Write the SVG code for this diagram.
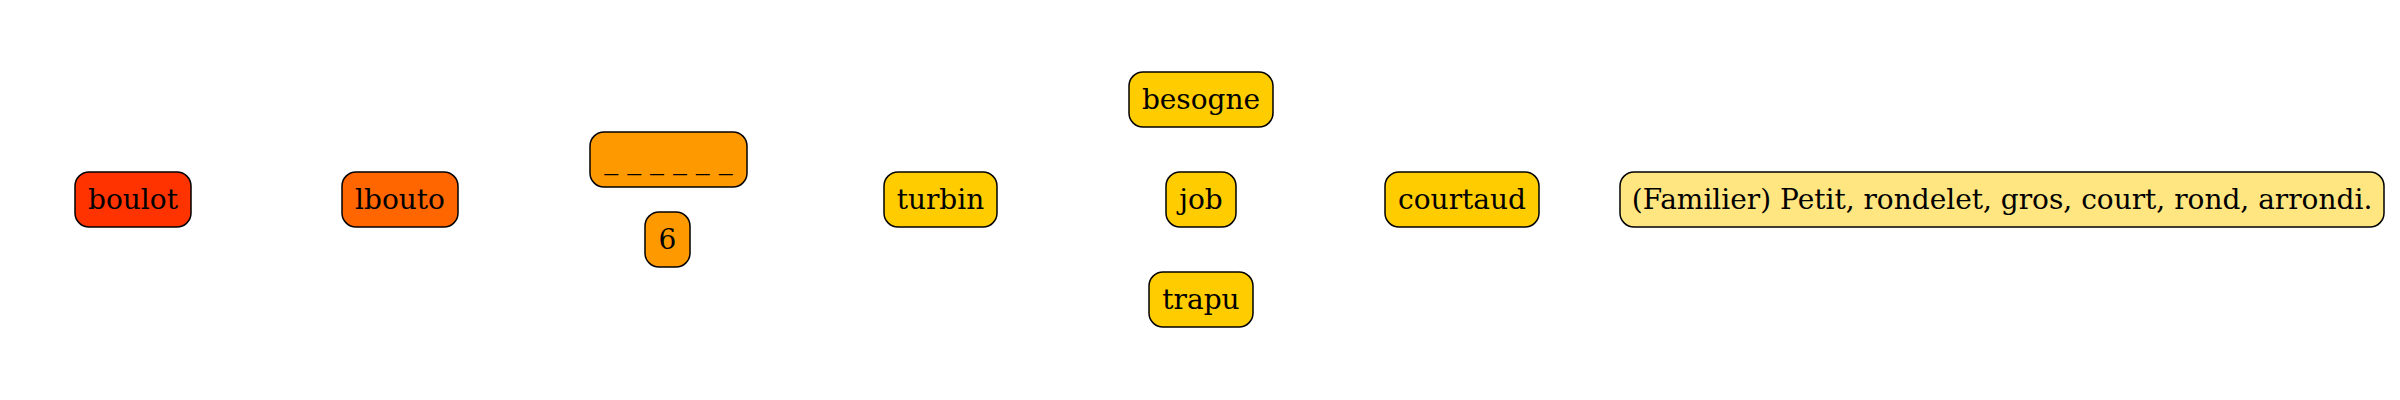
<svg xmlns="http://www.w3.org/2000/svg" width="2400" height="400" viewBox="0 0 2400 400">
<style>
rect{stroke:#000;stroke-width:1.5}
text{font-family:"DejaVu Serif",serif;font-size:28px;text-anchor:middle;fill:#000}
</style>
<rect width="2400" height="400" fill="#fff" style="stroke:none"/>
<g id="connectors"></g>
<g id="boulot"><rect x="75" y="172" width="116" height="55" rx="14" fill="#ff3300"/><text x="133" y="209">boulot</text></g>
<g id="lbouto"><rect x="342" y="172" width="116" height="55" rx="14" fill="#ff6600"/><text x="400" y="209">lbouto</text></g>
<g id="dashes"><rect x="590" y="132" width="157" height="55" rx="14" fill="#ff9900"/><text x="668.5" y="169">_ _ _ _ _ _</text></g>
<g id="six"><rect x="645" y="212" width="45" height="55" rx="14" fill="#ff9900"/><text x="667.5" y="249">6</text></g>
<g id="turbin"><rect x="884" y="172" width="113" height="55" rx="14" fill="#ffcc00"/><text x="940.5" y="209">turbin</text></g>
<g id="besogne"><rect x="1129" y="72" width="144" height="55" rx="14" fill="#ffcc00"/><text x="1201" y="109">besogne</text></g>
<g id="job"><rect x="1166" y="172" width="70" height="55" rx="14" fill="#ffcc00"/><text x="1201" y="209">job</text></g>
<g id="trapu"><rect x="1149" y="272" width="104" height="55" rx="14" fill="#ffcc00"/><text x="1201" y="309">trapu</text></g>
<g id="courtaud"><rect x="1385" y="172" width="154" height="55" rx="14" fill="#ffcc00"/><text x="1462" y="209">courtaud</text></g>
<g id="definition"><rect x="1620" y="172" width="764" height="55" rx="14" fill="#ffe680"/><text x="2002" y="209">(Familier) Petit, rondelet, gros, court, rond, arrondi.</text></g>
</svg>
